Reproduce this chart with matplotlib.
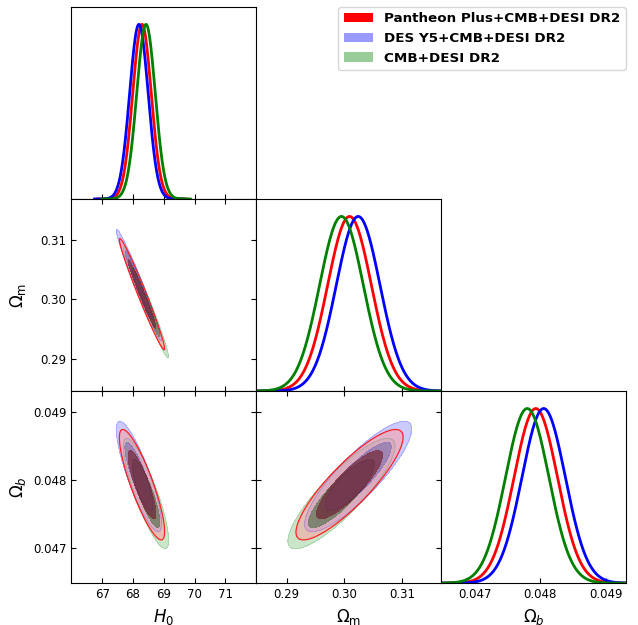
import numpy as np
import matplotlib.pyplot as plt
from matplotlib.patches import Patch

# data
labels = ['Pantheon Plus+CMB+DESI DR2', 'DES Y5+CMB+DESI DR2', 'CMB+DESI DR2']
line_colors = ['red', 'blue', 'green']
legend_colors = ['#ff0000', '#9999ff', '#99cc99']
outer_colors = [(1.0, 0.6, 0.6), (0.6, 0.6, 1.0), (0.6, 0.8, 0.6)]
inner_colors = [(0.45, 0.05, 0.1), (0.35, 0.3, 0.7), (0.1, 0.35, 0.1)]
inner_alpha = [0.6, 0.5, 0.5]

param_labels = ['$H_0$', r'$\Omega_{\rm m}$', r'$\Omega_b$']
means = [[68.29, 0.3009, 0.04793],
         [68.19, 0.3024, 0.04805],
         [68.42, 0.2995, 0.04780]]
sigmas = [0.30, 0.0038, 0.00033]
corr = {(1, 0): -0.98, (2, 0): -0.85, (2, 1): 0.86}

limits = [(66.0, 72.0), (0.2847, 0.3168), (0.04649, 0.04930)]
ticks = [[67, 68, 69, 70, 71], [0.29, 0.30, 0.31], [0.047, 0.048, 0.049]]
tick_labels = [['67', '68', '69', '70', '71'], ['0.29', '0.30', '0.31'],
               ['0.047', '0.048', '0.049']]

lev68 = -2 * np.log(1 - 0.68)
lev95 = -2 * np.log(1 - 0.95)

fig, axes = plt.subplots(3, 3, figsize=(6.38, 6.25), dpi=100)
plt.subplots_adjust(left=0.112, right=0.981, top=0.989, bottom=0.067,
                    wspace=0, hspace=0)

for i in range(3):
  for j in range(3):
    ax = axes[i, j]
    if j > i:
      ax.axis('off')
      continue
    ax.set_xlim(limits[j])
    ax.set_xticks(ticks[j])
    if i == j:
      # 1D marginals
      for k in range(3):
        m, s = means[k][i], sigmas[i]
        x = np.linspace(m - 4.8 * s, m + 4.8 * s, 400)
        ax.plot(x, np.exp(-0.5 * ((x - m) / s) ** 2), color=line_colors[k], lw=2)
      ax.set_ylim(0, 1.1)
      ax.set_yticks([])
      ax.tick_params(direction='in', length=3.5, labelsize=8.5)
    else:
      ax.set_ylim(limits[i])
      ax.set_yticks(ticks[i])
      xs = np.linspace(*limits[j], 300)
      ys = np.linspace(*limits[i], 300)
      X, Y = np.meshgrid(xs, ys)
      r = corr[(i, j)]
      for k in [2, 1, 0]:
        sx, sy = sigmas[j], sigmas[i]
        dx = (X - means[k][j]) / sx
        dy = (Y - means[k][i]) / sy
        r2 = (dx ** 2 - 2 * r * dx * dy + dy ** 2) / (1 - r ** 2)
        ax.contourf(X, Y, r2, levels=[lev68, lev95], colors=[outer_colors[k]],
                    alpha=0.5, zorder=1 + 0.01 * (2 - k))
        ax.contourf(X, Y, r2, levels=[-1, lev68], colors=[inner_colors[k]],
                    alpha=inner_alpha[k], zorder=2 + 0.01 * (2 - k))
        if k == 0:
          ax.contour(X, Y, r2, levels=[lev95], colors=['red'], linewidths=0.9,
                     alpha=0.8, zorder=1.5)
        else:
          ax.contour(X, Y, r2, levels=[lev95], colors=[line_colors[k]],
                     linewidths=0.6, alpha=0.2, zorder=1.5)
      ax.tick_params(direction='in', top=True, right=True, length=3.5,
                     labelsize=8.5)
    if i == 2:
      ax.set_xticklabels(tick_labels[j])
      ax.set_xlabel(param_labels[j], fontsize=12)
    else:
      ax.set_xticklabels([])
    if j == 0 and i > 0:
      ax.set_yticklabels(tick_labels[i])
      ax.set_ylabel(param_labels[i], fontsize=12)
    elif i != j:
      ax.set_yticklabels([])

fig.align_ylabels(axes[:, 0])

handles = [Patch(facecolor=c, edgecolor='none') for c in legend_colors]
fig.legend(handles, labels, loc='upper right', bbox_to_anchor=(0.981, 0.989),
           borderaxespad=0, prop={'weight': 'bold', 'size': 9.7},
           labelspacing=0.5, handlelength=2.2)

plt.savefig('out.png', dpi=100)
